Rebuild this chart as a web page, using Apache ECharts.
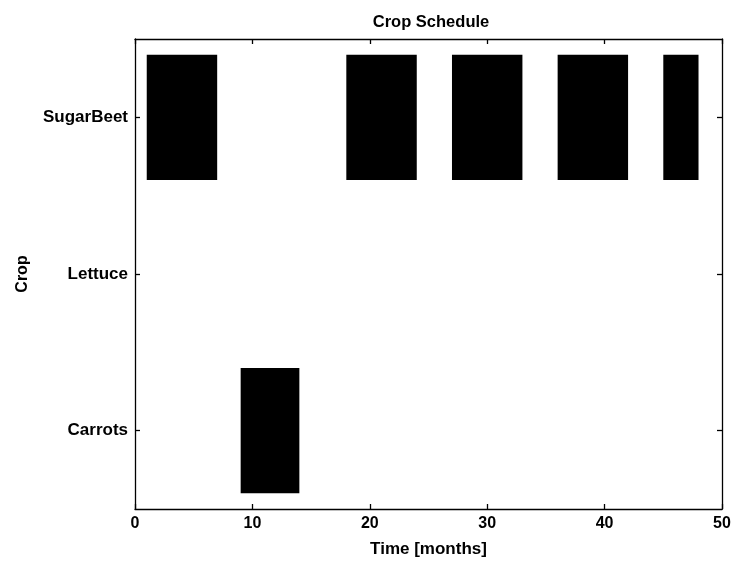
<!DOCTYPE html>
<html>
<head>
<meta charset="utf-8">
<script src="https://cdn.jsdelivr.net/npm/echarts@6/dist/echarts.min.js"></script>
<style>html,body{margin:0;padding:0;background:#fff;}#c{width:736px;height:561px;}</style>
</head>
<body>
<div id="c"></div>
<script>
var crops = ['Carrots', 'Lettuce', 'SugarBeet'];
var taskCrop = ['SugarBeet', 'SugarBeet', 'SugarBeet', 'SugarBeet', 'SugarBeet', 'Carrots'];
var taskStart = [1, 18, 27, 36, 45, 9];
var taskEnd = [7, 24, 33, 42, 48, 14];
var xTicks = [0, 10, 20, 30, 40, 50];

var data = taskCrop.map(function (c, i) {
  return [crops.indexOf(c), taskStart[i], taskEnd[i]];
});

var font = 'Liberation Sans, Arial, sans-serif';
var chart = echarts.init(document.getElementById('c'), null, {renderer: 'canvas'});
var axisLine = {show: true, onZero: false, lineStyle: {color: '#000', width: 1.3}};
var tick = {show: true, inside: true, length: 5, lineStyle: {color: '#000', width: 1.3}};
var tickCat = {show: true, inside: true, alignWithLabel: true, length: 5, lineStyle: {color: '#000', width: 1.3}};
chart.setOption({
  animation: false,
  backgroundColor: '#fff',
  title: {
    text: 'Crop Schedule', left: 426, top: 9, textAlign: 'center',
    textStyle: {fontFamily: font, fontSize: 16.5, fontWeight: 'bold', color: '#000'}
  },
  grid: {left: 135, right: 14, top: 39, bottom: 52, containLabel: false, outerBoundsMode: 'none'},
  xAxis: [{
    type: 'value', min: xTicks[0], max: xTicks[xTicks.length - 1], interval: 10,
    position: 'bottom',
    name: 'Time [months]', nameLocation: 'middle', nameGap: 32,
    nameTextStyle: {fontFamily: font, fontSize: 17, fontWeight: 'bold', color: '#000'},
    axisLine: axisLine,
    axisTick: tick,
    axisLabel: {fontFamily: font, fontSize: 16, fontWeight: 'bold', color: '#000', margin: 7},
    splitLine: {show: false}
  }, {
    type: 'value', min: xTicks[0], max: xTicks[xTicks.length - 1], interval: 10,
    position: 'top',
    axisLine: axisLine,
    axisTick: tick,
    axisLabel: {show: false},
    splitLine: {show: false}
  }],
  yAxis: [{
    type: 'category', data: crops, position: 'left',
    name: 'Crop', nameLocation: 'middle', nameGap: 104, nameRotate: 90,
    nameTextStyle: {fontFamily: font, fontSize: 16, fontWeight: 'bold', color: '#000'},
    axisLine: axisLine,
    axisTick: tickCat,
    axisLabel: {fontFamily: font, fontSize: 17, fontWeight: 'bold', color: '#000', margin: 7},
    splitLine: {show: false}
  }, {
    type: 'category', data: crops, position: 'right',
    axisLine: axisLine,
    axisTick: tickCat,
    axisLabel: {show: false},
    splitLine: {show: false}
  }],
  series: [{
    type: 'custom',
    xAxisIndex: 0, yAxisIndex: 0,
    encode: {x: [1, 2], y: 0},
    data: data,
    renderItem: function (params, api) {
      var cat = api.value(0);
      var p0 = api.coord([api.value(1), cat]);
      var p1 = api.coord([api.value(2), cat]);
      var h = api.size([0, 1])[1] * 0.8;
      return {
        type: 'rect',
        shape: {x: p0[0], y: p0[1] - h / 2, width: p1[0] - p0[0], height: h},
        style: {fill: '#000'}
      };
    }
  }]
});
</script>
</body>
</html>
